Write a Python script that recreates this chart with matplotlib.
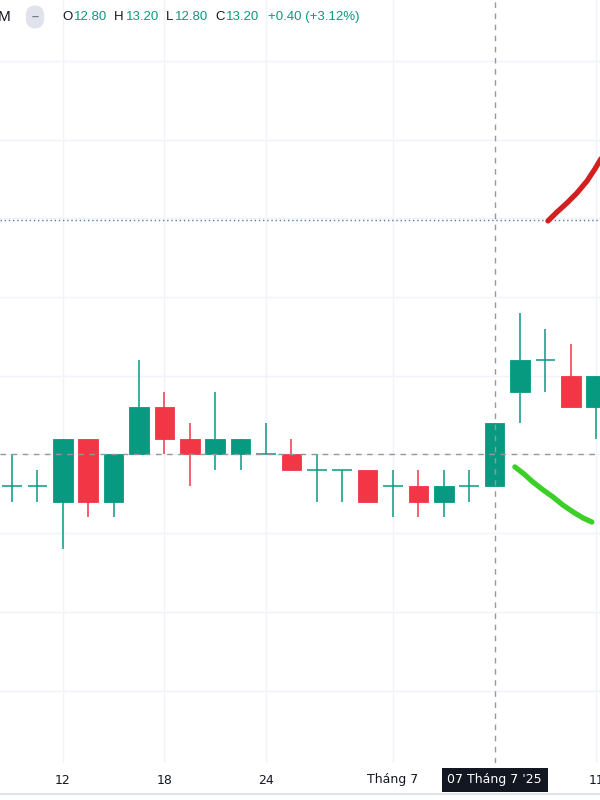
"""
Candlestick snapshot (daily bars, 10 Jun - 11 Jul 2025) with crosshair on 07 Jul,
a dotted price line and two hand-drawn strokes.
"""

import numpy as np
import matplotlib

matplotlib.use("Agg")
import matplotlib.pyplot as plt
from matplotlib.patches import Rectangle

# daily bars, index 0 = 10 Jun
opens = [12.8, 12.8, 12.7, 13.1, 12.7, 13.0, 13.3, 13.1, 13.0, 13.0, 13.0, 13.0,
         12.9, 12.9, 12.9, 12.8, 12.8, 12.7, 12.8, 12.8, 13.4, 13.6, 13.5, 13.3]
highs = [13.0, 12.9, 13.1, 13.1, 13.0, 13.6, 13.4, 13.2, 13.4, 13.1, 13.2, 13.1,
         13.0, 12.9, 12.9, 12.9, 12.9, 12.9, 12.9, 13.2, 13.9, 13.8, 13.7, 13.5]
lows = [12.7, 12.7, 12.4, 12.6, 12.6, 13.0, 13.0, 12.8, 12.9, 12.9, 13.0, 12.9,
        12.7, 12.7, 12.7, 12.6, 12.6, 12.6, 12.7, 12.8, 13.2, 13.4, 13.3, 13.1]
closes = [12.8, 12.8, 13.1, 12.7, 13.0, 13.3, 13.1, 13.0, 13.1, 13.1, 13.0, 12.9,
          12.9, 12.9, 12.7, 12.8, 12.7, 12.8, 12.8, 13.2, 13.6, 13.6, 13.3, 13.5]

tick_idx = [2, 6, 10, 15, 23]
tick_labels = ["12", "18", "24", "Tháng 7", "11"]

cross_idx = 19
cross_label = "07 Tháng 7 '25"
cross_price = 13.0
price_line = 14.49

# hand-drawn strokes (bar index, price)
red_x = [21.10, 21.46, 21.85, 22.24, 22.64, 22.95, 23.23]
red_y = [14.483, 14.540, 14.597, 14.660, 14.737, 14.813, 14.889]
green_x = [19.80, 20.16, 20.51, 20.91, 21.30, 21.69, 22.09, 22.48, 22.83]
green_y = [12.921, 12.876, 12.825, 12.775, 12.730, 12.679, 12.635, 12.597, 12.571]

UP = "#089981"
DOWN = "#f23645"
GRID = "#f0f3fa"
TEXT = "#131722"


def main():
    fig = plt.figure(figsize=(6, 8), dpi=100)
    ax = fig.add_axes([0, 37 / 800, 1, 763 / 800])

    ax.set_xlim(-0.47, 23.15)
    ax.set_ylim(11.041, 15.886)

    for p in np.arange(11.5, 15.51, 0.5):
        ax.axhline(p, color=GRID, lw=1, zorder=0)
    for i in tick_idx:
        ax.axvline(i, color=GRID, lw=1, zorder=0)

    w = 0.77
    for i, (o, h, l, c) in enumerate(zip(opens, highs, lows, closes)):
        col = UP if c >= o else DOWN
        ax.vlines(i, l, h, color=col, lw=1.1, zorder=2)
        if abs(c - o) < 1e-9:
            ax.hlines(o, i - w / 2, i + w / 2, color=col, lw=1.1, zorder=2)
        else:
            ax.add_patch(Rectangle((i - w / 2, min(o, c)), w, abs(c - o),
                                   facecolor=col, edgecolor=col, lw=0.6, zorder=3))

    ax.axhline(price_line, color="#4f79a8", lw=1.0, ls=(0, (1, 2)), zorder=1)
    ax.axhline(cross_price, color="#9598a1", lw=1.0, ls=(0, (4, 4)), zorder=4)
    ax.axvline(cross_idx, color="#9598a1", lw=1.0, ls=(0, (4, 4)), zorder=4)

    ax.plot(red_x, red_y, color="#d21f1f", lw=3.8, solid_capstyle="round",
            solid_joinstyle="round", zorder=5)
    ax.plot(green_x, green_y, color="#3ccf28", lw=3.8, solid_capstyle="round",
            solid_joinstyle="round", zorder=5)

    for s in ax.spines.values():
        s.set_visible(False)
    ax.set_xticks([])
    ax.set_yticks([])

    # time axis labels
    for i, lab in zip(tick_idx, tick_labels):
        xf = (12 + 25.4 * i) / 600
        fig.text(xf, 20 / 800, lab, ha="center", va="center", fontsize=9,
                 color=TEXT, family="DejaVu Sans")
    fig.text((12 + 25.4 * cross_idx) / 600, 20 / 800, cross_label, ha="center",
             va="center", fontsize=9, color="white", family="DejaVu Sans",
             bbox=dict(boxstyle="square,pad=0.45", fc=TEXT, ec="none"))
    fig.add_artist(plt.Line2D([0, 1], [6 / 800, 6 / 800], color="#e0e3eb", lw=1.5))

    # header
    hy = 1 - 17 / 800
    fig.text(-0.004, hy, "M", ha="left", va="center", fontsize=11, color=TEXT,
             family="Liberation Sans")
    fig.text(35 / 600, hy, "–", ha="center", va="center", fontsize=9, color="#787b86",
             family="Liberation Sans", fontweight="bold",
             bbox=dict(boxstyle="round,pad=0.45,rounding_size=0.8", fc="#e0e3eb", ec="none"))
    parts = [(62, "O", TEXT), (74, "12.80", UP), (114, "H", TEXT), (126, "13.20", UP),
             (166, "L", TEXT), (175, "12.80", UP), (215, "C", TEXT), (226, "13.20", UP),
             (268, "+0.40 (+3.12%)", UP)]
    for px, s, col in parts:
        fig.text(px / 600, hy, s, ha="left", va="center", fontsize=9.5, color=col,
                 family="Liberation Sans")

    fig.savefig("out.png", dpi=100, facecolor="white")
    plt.close(fig)


if __name__ == "__main__":
    main()
